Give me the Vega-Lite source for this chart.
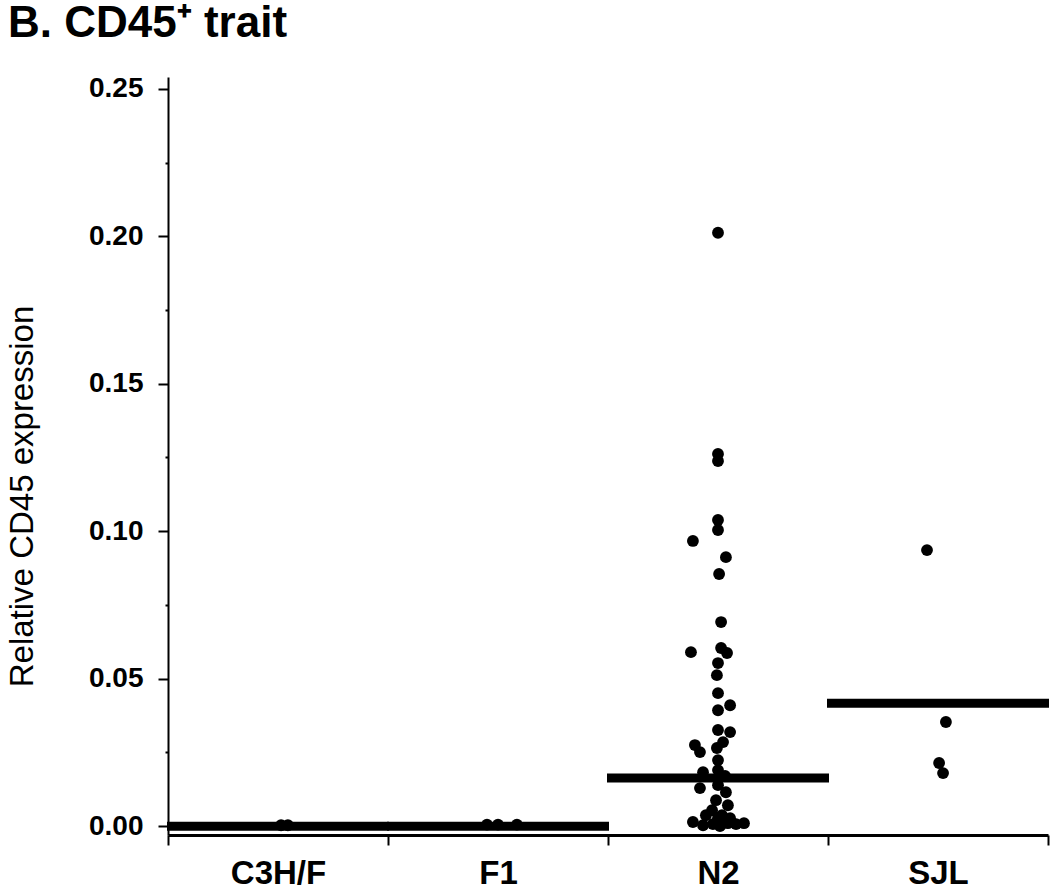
{
  "$schema": "https://vega.github.io/schema/vega-lite/v6.json",
  "width": 880,
  "height": 758,
  "autosize": {"type": "none"},
  "padding": {"left": 168, "top": 77, "right": 2, "bottom": 54},
  "background": "white",
  "title": {
    "text": "B. CD45⁺ trait",
    "anchor": "start",
    "frame": "group",
    "dx": -160,
    "offset": 29,
    "fontSize": 44,
    "font": "Liberation Sans",
    "fontWeight": "bold",
    "color": "#000"
  },
  "config": {"view": {"stroke": null}, "font": "Liberation Sans"},
  "datasets": {
    "points": [
      {"strain": "C3H/F", "value": 0.0003, "jitter": 0.014},
      {"strain": "C3H/F", "value": 0.0003, "jitter": 0.045},
      {"strain": "F1", "value": 0.0005, "jitter": -0.05},
      {"strain": "F1", "value": 0.0005, "jitter": 0.0},
      {"strain": "F1", "value": 0.0005, "jitter": 0.086},
      {"strain": "N2", "value": 0.2012, "jitter": 0.0},
      {"strain": "N2", "value": 0.1262, "jitter": 0.0},
      {"strain": "N2", "value": 0.1238, "jitter": 0.0},
      {"strain": "N2", "value": 0.1038, "jitter": 0.0},
      {"strain": "N2", "value": 0.1004, "jitter": 0.0},
      {"strain": "N2", "value": 0.0967, "jitter": -0.114},
      {"strain": "N2", "value": 0.0912, "jitter": 0.036},
      {"strain": "N2", "value": 0.0855, "jitter": 0.005},
      {"strain": "N2", "value": 0.0692, "jitter": 0.014},
      {"strain": "N2", "value": 0.0590, "jitter": -0.123},
      {"strain": "N2", "value": 0.0604, "jitter": 0.014},
      {"strain": "N2", "value": 0.0587, "jitter": 0.041},
      {"strain": "N2", "value": 0.0553, "jitter": 0.0},
      {"strain": "N2", "value": 0.0512, "jitter": -0.005},
      {"strain": "N2", "value": 0.0451, "jitter": 0.0},
      {"strain": "N2", "value": 0.0410, "jitter": 0.055},
      {"strain": "N2", "value": 0.0393, "jitter": 0.0},
      {"strain": "N2", "value": 0.0326, "jitter": 0.0},
      {"strain": "N2", "value": 0.0319, "jitter": 0.055},
      {"strain": "N2", "value": 0.0285, "jitter": 0.023},
      {"strain": "N2", "value": 0.0275, "jitter": -0.105},
      {"strain": "N2", "value": 0.0251, "jitter": -0.082},
      {"strain": "N2", "value": 0.0265, "jitter": -0.005},
      {"strain": "N2", "value": 0.0224, "jitter": 0.0},
      {"strain": "N2", "value": 0.0190, "jitter": 0.0},
      {"strain": "N2", "value": 0.0183, "jitter": -0.068},
      {"strain": "N2", "value": 0.0170, "jitter": 0.032},
      {"strain": "N2", "value": 0.0129, "jitter": -0.082},
      {"strain": "N2", "value": 0.0139, "jitter": 0.0},
      {"strain": "N2", "value": 0.0115, "jitter": 0.036},
      {"strain": "N2", "value": 0.0088, "jitter": -0.009},
      {"strain": "N2", "value": 0.0071, "jitter": 0.045},
      {"strain": "N2", "value": 0.0054, "jitter": -0.027},
      {"strain": "N2", "value": 0.0037, "jitter": 0.018},
      {"strain": "N2", "value": 0.0037, "jitter": -0.055},
      {"strain": "N2", "value": 0.0014, "jitter": -0.114},
      {"strain": "N2", "value": 0.0003, "jitter": -0.068},
      {"strain": "N2", "value": 0.0007, "jitter": -0.023},
      {"strain": "N2", "value": 0.0000, "jitter": 0.009},
      {"strain": "N2", "value": 0.0010, "jitter": 0.045},
      {"strain": "N2", "value": 0.0007, "jitter": 0.082},
      {"strain": "N2", "value": 0.0010, "jitter": 0.118},
      {"strain": "N2", "value": 0.0027, "jitter": 0.0},
      {"strain": "N2", "value": 0.0027, "jitter": 0.055},
      {"strain": "SJL", "value": 0.0936, "jitter": -0.05},
      {"strain": "SJL", "value": 0.0353, "jitter": 0.036},
      {"strain": "SJL", "value": 0.0214, "jitter": 0.005},
      {"strain": "SJL", "value": 0.0180, "jitter": 0.023}
    ],
    "means": [
      {"strain": "C3H/F", "mean": 0.0},
      {"strain": "F1", "mean": 0.0},
      {"strain": "N2", "mean": 0.0163},
      {"strain": "SJL", "mean": 0.0417}
    ]
  },
  "layer": [
    {
      "data": {"name": "points"},
      "mark": {"type": "circle", "size": 140, "color": "#000", "opacity": 1},
      "encoding": {
        "x": {
          "field": "strain",
          "type": "nominal",
          "sort": ["C3H/F", "F1", "N2", "SJL"],
          "scale": {"paddingInner": 0, "paddingOuter": 0},
          "axis": {
            "title": null,
            "tickBand": "extent",
            "domainColor": "#000",
            "domainWidth": 3,
            "tickColor": "#000",
            "tickWidth": 2,
            "tickSize": 10,
            "labelAngle": 0,
            "labelFontSize": 33,
            "labelFontWeight": "bold",
            "labelColor": "#000",
            "labelPadding": 12,
            "grid": false
          }
        },
        "xOffset": {"field": "jitter", "type": "quantitative", "scale": {"domain": [-0.5, 0.5]}},
        "y": {
          "field": "value",
          "type": "quantitative",
          "scale": {"domain": [-0.003, 0.254], "nice": false, "zero": false},
          "axis": {
            "title": "Relative CD45 expression",
            "titleFontSize": 33,
            "titleFontWeight": "normal",
            "titleColor": "#000",
            "titleAngle": -90,
            "titleAlign": "center",
            "titleBaseline": "middle",
            "titleX": -146,
            "titleY": 419,
            "values": [0, 0.025, 0.05, 0.075, 0.1, 0.125, 0.15, 0.175, 0.2, 0.225, 0.25],
            "labelExpr": "round(datum.value*40) % 2 == 0 ? format(datum.value, '.2f') : ''",
            "tickSize": {"condition": {"test": "round(datum.value*40) % 2 == 1", "value": 3}, "value": 10},
            "tickWidth": 2,
            "tickColor": "#000",
            "domainColor": "#000",
            "domainWidth": 2,
            "labelFontSize": 28,
            "labelFontWeight": "bold",
            "labelColor": "#000",
            "labelPadding": 15,
            "grid": false
          }
        }
      }
    },
    {
      "data": {"name": "means"},
      "mark": {"type": "tick", "size": 222, "thickness": 9, "color": "#000", "opacity": 1},
      "encoding": {
        "x": {"field": "strain", "type": "nominal", "sort": ["C3H/F", "F1", "N2", "SJL"]},
        "y": {"field": "mean", "type": "quantitative"}
      }
    }
  ]
}
